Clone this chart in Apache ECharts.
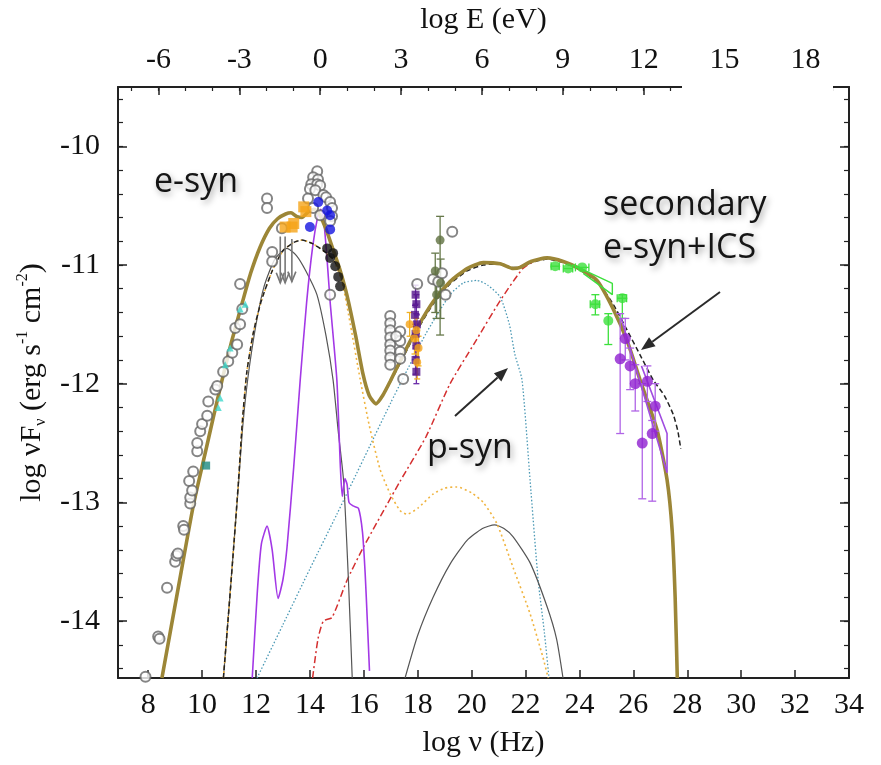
<!DOCTYPE html>
<html>
<head>
<meta charset="utf-8">
<script src="https://cdn.jsdelivr.net/npm/echarts@6/dist/echarts.min.js"></script>
<style>
  html, body { margin: 0; padding: 0; background: #fff; }
  #chart { width: 881px; height: 765px; }
</style>
</head>
<body>
<div id="chart"></div>
<script>
// ---- axis ticks ----
const nuTicks = [8, 10, 12, 14, 16, 18, 20, 22, 24, 26, 28, 30, 32, 34];
const eTicks = [-6, -3, 0, 3, 6, 9, 12, 15, 18];
const fluxTicks = [-14, -13, -12, -11, -10];
const LOG_H = 14.383; // log nu (Hz) at E = 1 eV
const NU_MIN = 6.88, NU_MAX = 34;
const F_MIN = -14.48, F_MAX = -9.5;

// ---- model curves [log nu, log nuFnu] ----
const totalModel = [[8.51,-14.48],[9.1,-13.74],[9.68,-13.02],[10.1,-12.6],[10.41,-12.29],[10.74,-11.97],[11.1,-11.64],[11.5,-11.31],[11.8,-11.07],[12.15,-10.85],[12.5,-10.69],[12.8,-10.61],[13.1,-10.57],[13.3,-10.56],[13.5,-10.59],[13.7,-10.6],[13.95,-10.55],[14.15,-10.53],[14.35,-10.57],[14.6,-10.7],[14.86,-10.87],[15.1,-11.03],[15.38,-11.26],[15.7,-11.6],[15.97,-11.92],[16.2,-12.1],[16.45,-12.17],[16.7,-12.1],[16.98,-11.98],[17.5,-11.74],[17.98,-11.53],[18.57,-11.31],[19.2,-11.14],[19.83,-11.03],[20.43,-10.98],[21.06,-10.99],[21.54,-11.03],[21.8,-11.02],[22.2,-10.97],[22.8,-10.94],[23.4,-10.97],[24.0,-11.03],[24.65,-11.13],[25.25,-11.37],[25.77,-11.64],[26.25,-11.97],[26.88,-12.39],[27.25,-12.81],[27.44,-13.24],[27.55,-13.8],[27.63,-14.48]];
const eSynDashed = [[10.79,-14.48],[10.98,-13.94],[11.17,-13.38],[11.35,-12.82],[11.5,-12.3],[11.66,-11.9],[11.91,-11.56],[12.2,-11.3],[12.6,-11.05],[13.0,-10.88],[13.4,-10.81],[13.7,-10.79],[14.1,-10.82],[14.5,-10.88],[14.9,-10.96],[15.2,-11.12],[15.45,-11.33],[15.7,-11.6],[15.97,-11.92],[16.2,-12.1],[16.45,-12.17],[16.7,-12.1],[16.98,-11.99],[17.5,-11.76],[17.98,-11.55],[18.57,-11.33],[19.2,-11.16],[19.83,-11.05],[20.43,-11.0],[21.06,-10.99],[21.5,-11.02],[21.8,-11.02],[22.2,-10.98],[22.8,-10.95],[23.4,-10.98],[24.0,-11.04],[24.65,-11.14],[25.25,-11.33],[25.77,-11.55],[26.3,-11.78],[26.74,-11.97],[27.15,-12.1],[27.48,-12.26],[27.65,-12.4],[27.76,-12.55]];
const eSynDotted = [[10.79,-14.48],[10.98,-13.94],[11.17,-13.38],[11.35,-12.82],[11.5,-12.3],[11.66,-11.9],[11.91,-11.56],[12.2,-11.3],[12.6,-11.05],[13.0,-10.88],[13.4,-10.81],[13.7,-10.79],[14.1,-10.82],[14.5,-10.88],[14.9,-10.97],[15.2,-11.15],[15.5,-11.5],[15.87,-11.97],[16.2,-12.35],[16.6,-12.72],[16.98,-12.93],[17.35,-13.07],[17.6,-13.1],[18.0,-13.05],[18.57,-12.93],[19.0,-12.88],[19.46,-12.87],[20.0,-12.92],[20.43,-13.0],[20.94,-13.18],[21.54,-13.55],[22.17,-13.94],[22.65,-14.31],[22.84,-14.48]];
const primarySyn = [[10.79,-14.48],[10.98,-13.94],[11.17,-13.38],[11.35,-12.85],[11.5,-12.38],[11.7,-11.95],[12.0,-11.5],[12.3,-11.18],[12.7,-10.95],[13.15,-10.86],[13.5,-10.92],[13.85,-11.05],[14.26,-11.25],[14.6,-11.6],[14.86,-11.97],[15.05,-12.4],[15.25,-12.82],[15.43,-13.66],[15.57,-14.48]];
const secondaryGray = [[17.53,-14.48],[18.0,-14.12],[18.57,-13.8],[19.2,-13.52],[19.83,-13.32],[20.4,-13.22],[20.85,-13.19],[21.2,-13.22],[21.54,-13.29],[22.17,-13.51],[22.8,-13.88],[23.15,-14.15],[23.39,-14.48]];
const purpleModel = [[11.86,-14.48],[12.05,-13.75],[12.2,-13.35],[12.41,-13.2],[12.6,-13.4],[12.82,-13.81],[13.0,-13.65],[13.15,-13.38],[13.4,-12.7],[13.64,-11.97],[13.88,-11.31],[14.1,-10.85],[14.3,-10.58],[14.4,-10.53],[14.5,-10.6],[14.62,-10.9],[14.75,-11.31],[15.0,-11.97],[15.13,-12.7],[15.2,-12.95],[15.3,-12.8],[15.38,-12.85],[15.45,-13.0],[15.6,-13.03],[15.8,-13.05],[15.95,-13.25],[16.05,-13.6],[16.13,-14.0],[16.21,-14.42]];
const pSyn = [[12.04,-14.48],[13.0,-14.03],[14.0,-13.56],[15.0,-13.1],[16.0,-12.63],[17.0,-12.16],[17.42,-11.97],[18.3,-11.58],[19.2,-11.25],[19.7,-11.15],[20.2,-11.13],[20.6,-11.17],[21.06,-11.27],[21.4,-11.5],[21.6,-11.75],[21.87,-11.97],[22.17,-12.82],[22.47,-13.66],[22.7,-14.1],[22.87,-14.48]];
const secondaryRed = [[14.1,-14.48],[14.3,-14.15],[14.5,-14.0],[14.82,-13.97],[15.37,-13.66],[15.98,-13.38],[17.35,-12.82],[18.3,-12.45],[19.2,-12.0],[20.1,-11.66],[21.06,-11.3],[21.9,-11.03],[22.4,-10.96],[22.8,-10.94]];

// ---- data points ----
const archival = [[7.9,-14.47],[8.37,-14.13],[8.42,-14.15],[8.7,-13.72],[9.0,-13.5],[9.05,-13.45],[9.1,-13.43],[9.3,-13.2],[9.33,-13.23],[9.52,-12.82],[9.56,-13.01],[9.56,-12.96],[9.63,-12.9],[9.67,-12.74],[9.82,-12.57],[9.82,-12.5],[9.93,-12.4],[10.0,-12.34],[10.19,-12.27],[10.23,-12.15],[10.49,-12.05],[10.56,-12.02],[10.78,-11.9],[10.97,-11.81],[11.12,-11.74],[11.3,-11.67],[11.23,-11.53],[11.41,-11.5],[11.49,-11.37],[11.41,-11.16],[12.41,-10.44],[12.41,-10.52],[12.6,-10.89],[12.6,-10.97],[12.96,-10.69],[14.27,-10.21],[14.12,-10.26],[14.3,-10.28],[14.05,-10.32],[14.27,-10.32],[14.38,-10.33],[14.0,-10.36],[14.2,-10.37],[14.5,-10.41],[14.6,-10.43],[14.75,-10.47],[14.82,-10.52],[14.82,-10.59],[14.75,-10.63],[13.93,-10.44],[14.12,-10.52],[14.38,-10.58],[14.75,-11.25],[16.98,-11.43],[16.98,-11.49],[16.98,-11.55],[16.98,-11.61],[16.98,-11.67],[16.98,-11.72],[16.98,-11.78],[16.98,-11.84],[17.35,-11.56],[17.35,-11.64],[17.35,-11.73],[17.35,-11.79],[17.2,-11.6],[17.46,-11.96],[17.98,-11.16],[19.28,-10.72],[18.57,-11.12],[18.76,-11.14],[18.9,-11.07],[19.03,-11.25]];
const opticalOrange = [[13.08,-10.68],[13.34,-10.68],[13.4,-10.65],[13.77,-10.51],[13.85,-10.55]];
const uvBlue = [[14.31,-10.47],[14.64,-10.54],[14.75,-10.58],[14.0,-10.68],[14.75,-10.7]];
const irBlack = [[14.64,-10.86],[14.75,-10.94],[14.86,-10.9],[14.94,-11.01],[15.05,-11.1],[15.12,-11.18]];
const upperLimits = [[12.9,-10.76,-11.15],[13.08,-10.76,-11.15],[13.33,-10.78,-11.14]];
const radioCyan = [[11.41,-11.37],[11.6,-11.33],[11.04,-11.7],[10.86,-11.84],[10.67,-12.12],[10.6,-12.2]];
const radioTeal = [[10.15,-12.69]];
// [log nu, value, low, high]
const xrayPurple = [[17.92,-11.25,-11.33,-11.17],[17.95,-11.33,-11.41,-11.25],[17.9,-11.42,-11.5,-11.34],[17.97,-11.5,-11.58,-11.42],[17.92,-11.58,-11.68,-11.5],[17.95,-11.68,-11.78,-11.6],[17.92,-11.8,-11.92,-11.7],[17.95,-11.9,-12.0,-11.8]];
const xrayOrange = [[17.7,-11.5,-11.6,-11.4],[17.95,-11.55,-11.68,-11.45],[17.88,-11.62,-11.75,-11.52],[18.03,-11.7,-11.85,-11.6],[17.98,-11.82,-11.96,-11.72]];
const fermiOlive = [[18.83,-10.79,-11.59,-10.59],[18.65,-11.05,-11.4,-10.9],[18.85,-11.15,-11.45,-10.95],[18.7,-11.25,-11.45,-11.1]];
// [log nu, value, low, high, xlow, xhigh]
const gammaGreen = [[23.1,-11.01,-11.01,-11.01,22.95,23.25],[23.58,-11.03,-11.03,-11.03,23.4,23.75],[24.1,-11.02,-11.02,-11.02,23.85,24.35],[24.59,-11.33,-11.42,-11.25,24.4,24.75],[25.07,-11.47,-11.67,-11.41,25.07,25.07],[25.59,-11.28,-11.45,-11.25,25.4,25.75]];
const greenBowtie = [[23.77,-11.0],[25.22,-11.155],[25.22,-11.25],[24.14,-11.07]];
const vhePurple = [[25.51,-11.79,-12.42,-11.41],[25.7,-11.62,-11.8,-11.45],[25.88,-11.85,-12.05,-11.7],[26.07,-12.0,-12.23,-11.84],[26.52,-11.98,-12.15,-11.85],[26.81,-12.19,-12.4,-12.0],[26.7,-12.42,-12.99,-12.31],[26.33,-12.5,-12.97,-12.0]];
const purpleBowtie = [[25.55,-11.45],[27.25,-12.75],[27.25,-12.42],[26.3,-11.85]];

const serif = '"Liberation Serif", "Times New Roman", serif';
const sans = '"Open Sans", Lato, sans-serif';
const axisColor = '#222';

// minor tick positions
const fluxMinor = [];
for (let v = -14.4; v < -9.55; v += 0.2) fluxMinor.push(+v.toFixed(1));
const eMinor = [];
for (let v = -7; v <= 19; v++) eMinor.push(v);

const chart = echarts.init(document.getElementById('chart'));

function curve(name, data, color, width, type, z) {
  return {
    name, type: 'line', data, smooth: 0.2,
    showSymbol: false, silent: true, z: z || 2,
    lineStyle: { color, width, type: type || 'solid' }
  };
}

function errorBars(name, data, color, cap, z) {
  return {
    name, type: 'custom', data, z: z || 4, clip: true, silent: true,
    encode: { x: 0, y: 1 },
    renderItem(params, api) {
      const x = api.value(0);
      const lo = api.coord([x, api.value(2)]);
      const hi = api.coord([x, api.value(3)]);
      const st = { stroke: color, lineWidth: 1.3 };
      const kids = [];
      if (Math.abs(lo[1] - hi[1]) > 0.5) {
        kids.push({ type: 'line', shape: { x1: lo[0], y1: lo[1], x2: hi[0], y2: hi[1] }, style: st });
        kids.push({ type: 'line', shape: { x1: lo[0] - cap, y1: lo[1], x2: lo[0] + cap, y2: lo[1] }, style: st });
        kids.push({ type: 'line', shape: { x1: hi[0] - cap, y1: hi[1], x2: hi[0] + cap, y2: hi[1] }, style: st });
      }
      const xl = api.value(4), xh = api.value(5);
      if (!isNaN(xl) && !isNaN(xh) && xh > xl) {
        const a = api.coord([xl, api.value(1)]);
        const b = api.coord([xh, api.value(1)]);
        kids.push({ type: 'line', shape: { x1: a[0], y1: a[1], x2: b[0], y2: b[1] }, style: st });
        kids.push({ type: 'line', shape: { x1: a[0], y1: a[1] - cap, x2: a[0], y2: a[1] + cap }, style: st });
        kids.push({ type: 'line', shape: { x1: b[0], y1: b[1] - cap, x2: b[0], y2: b[1] + cap }, style: st });
      }
      return { type: 'group', children: kids };
    }
  };
}

function points(name, data, symbol, size, color, z) {
  return {
    name, type: 'scatter', data, symbol, symbolSize: size, z: z || 5, silent: true,
    itemStyle: symbol.indexOf('empty') === 0 ? { color, borderWidth: 1.3 } : { color }
  };
}

// arrow heads for graphics
function arrow(x1, y1, x2, y2) {
  const dx = x2 - x1, dy = y2 - y1;
  const len = Math.sqrt(dx * dx + dy * dy);
  const ux = dx / len, uy = dy / len;
  const hl = 14, hw = 5.5;
  const bx = x2 - ux * hl, by = y2 - uy * hl;
  return [
    { type: 'line', shape: { x1, y1, x2: bx, y2: by }, style: { stroke: '#2a2a2a', lineWidth: 2 }, z: 100 },
    { type: 'polygon', shape: { points: [[x2, y2], [bx - uy * hw, by + ux * hw], [bx + uy * hw, by - ux * hw]] }, style: { fill: '#2a2a2a' }, z: 100 }
  ];
}

function label(text, x, y) {
  return {
    type: 'text', x, y, z: 110,
    style: {
      text, fill: '#151515', font: '34px ' + sans, verticalAlign: 'middle',
      textShadowColor: 'rgba(0,0,0,0.35)', textShadowBlur: 6,
      textShadowOffsetX: 2, textShadowOffsetY: 3
    }
  };
}

const tickLabel = { fontFamily: serif, fontSize: 30, color: '#111' };
const frameLine = { onZero: false, lineStyle: { color: axisColor, width: 2 } };

const option = {
  backgroundColor: '#fff',
  animation: false,
  grid: { left: 118, right: 32, top: 85, bottom: 87 },
  xAxis: [
    {
      type: 'value', position: 'bottom', min: NU_MIN, max: NU_MAX,
      name: 'log ν (Hz)', nameLocation: 'middle', nameGap: 50,
      nameTextStyle: { fontFamily: serif, fontSize: 30, color: '#111' },
      axisLine: frameLine,
      axisTick: { inside: true, length: 8, customValues: nuTicks, lineStyle: { color: axisColor, width: 1.5 } },
      axisLabel: Object.assign({ customValues: nuTicks, margin: 12 }, tickLabel),
      splitLine: { show: false }
    },
    {
      type: 'value', position: 'top', min: NU_MIN - LOG_H, max: NU_MAX - LOG_H,
      name: 'log E (eV)', nameLocation: 'middle', nameGap: 52,
      nameTextStyle: { fontFamily: serif, fontSize: 30, color: '#111' },
      axisLine: frameLine,
      axisTick: { inside: true, length: 8, customValues: eTicks, lineStyle: { color: axisColor, width: 1.5 } },
      axisLabel: Object.assign({ customValues: eTicks, margin: 12 }, tickLabel),
      splitLine: { show: false }
    },
    {
      type: 'value', position: 'top', min: NU_MIN - LOG_H, max: NU_MAX - LOG_H,
      axisLine: { show: false, onZero: false },
      axisTick: { inside: true, length: 4, customValues: eMinor, lineStyle: { color: axisColor, width: 1.2 } },
      axisLabel: { show: false }, splitLine: { show: false }
    }
  ],
  yAxis: [
    {
      type: 'value', position: 'left', min: F_MIN, max: F_MAX,
      name: 'log νF{sub|ν} (erg s{sup|-1} cm{sup|-2})',
      nameLocation: 'middle', nameGap: 68, nameRotate: 90,
      nameTextStyle: {
        fontFamily: serif, fontSize: 30, color: '#111', lineHeight: 34,
        rich: {
          sub: { fontFamily: serif, fontSize: 16, color: '#111', verticalAlign: 'bottom', lineHeight: 34 },
          sup: { fontFamily: serif, fontSize: 16, color: '#111', verticalAlign: 'top', lineHeight: 34 }
        }
      },
      axisLine: frameLine,
      axisTick: { inside: true, length: 9, customValues: fluxTicks, lineStyle: { color: axisColor, width: 1.5 } },
      axisLabel: Object.assign({ customValues: fluxTicks, margin: 18 }, tickLabel),
      splitLine: { show: false }
    },
    {
      type: 'value', position: 'left', min: F_MIN, max: F_MAX,
      axisLine: { show: false, onZero: false },
      axisTick: { inside: true, length: 5, customValues: fluxMinor, lineStyle: { color: axisColor, width: 1.2 } },
      axisLabel: { show: false }, splitLine: { show: false }
    },
    {
      type: 'value', position: 'right', min: F_MIN, max: F_MAX,
      axisLine: frameLine,
      axisTick: { inside: true, length: 9, customValues: fluxTicks, lineStyle: { color: axisColor, width: 1.5 } },
      axisLabel: { show: false }, splitLine: { show: false }
    },
    {
      type: 'value', position: 'right', min: F_MIN, max: F_MAX,
      axisLine: { show: false, onZero: false },
      axisTick: { inside: true, length: 5, customValues: fluxMinor, lineStyle: { color: axisColor, width: 1.2 } },
      axisLabel: { show: false }, splitLine: { show: false }
    }
  ],
  series: [
    curve('p-syn', pSyn, '#4a98b4', 1.3, [1.5, 2]),
    curve('secondary', secondaryRed, '#d42f2f', 1.5, [7, 3, 2, 3]),
    curve('secondary ICS', secondaryGray, '#555', 1.2),
    curve('primary syn', primarySyn, '#555', 1.2),
    curve('purple', purpleModel, '#a338e6', 1.6),
    curve('e-syn dotted', eSynDotted, '#f0b440', 1.6, [2, 3]),
    curve('e-syn dashed', eSynDashed, '#222', 1.5, [5, 3]),
    curve('total', totalModel, '#9c8637', 3.6, 'solid', 3),
    {
      name: 'green bowtie', type: 'line', data: greenBowtie, showSymbol: false, silent: true, z: 4,
      lineStyle: { color: '#3ce03c', width: 1.4 }
    },
    {
      name: 'purple bowtie', type: 'line', data: purpleBowtie, showSymbol: false, silent: true, z: 4,
      lineStyle: { color: '#a04ce0', width: 1.6 }
    },
    {
      name: 'upper limits', type: 'custom', data: upperLimits, z: 4, silent: true,
      encode: { x: 0, y: 1 },
      renderItem(params, api) {
        const t = api.coord([api.value(0), api.value(1)]);
        const b = api.coord([api.value(0), api.value(2)]);
        const st = { stroke: '#777', lineWidth: 1.6, fill: null };
        return {
          type: 'group', children: [
            { type: 'line', shape: { x1: t[0], y1: t[1], x2: b[0], y2: b[1] }, style: st },
            { type: 'polyline', shape: { points: [[b[0] - 4, b[1] - 10], [b[0], b[1]], [b[0] + 4, b[1] - 10]] }, style: st }
          ]
        };
      }
    },
    errorBars('x-ray purple err', xrayPurple, '#6a2aa8', 3),
    errorBars('x-ray orange err', xrayOrange, '#f0b020', 3),
    errorBars('fermi olive err', fermiOlive, '#66784a', 4),
    errorBars('green err', gammaGreen, '#3ce03c', 4),
    errorBars('vhe err', vhePurple, '#b064e6', 4),
    points('archival', archival, 'emptyCircle', 10, '#666'),
    points('radio cyan', radioCyan, 'triangle', 7, '#3fd8cc'),
    points('radio teal', radioTeal, 'rect', 8, '#1b8a80'),
    points('optical', opticalOrange, 'rect', 11, '#f5a418'),
    points('uv', uvBlue, 'circle', 10, '#1414e0'),
    points('ir', irBlack, 'circle', 10, '#111'),
    points('x-ray purple', xrayPurple, 'rect', 8, '#55178c'),
    points('x-ray orange', xrayOrange, 'circle', 8, '#f5a418'),
    points('fermi olive', fermiOlive, 'circle', 9, '#5f7040'),
    points('green', gammaGreen, 'circle', 10, '#3ce03c'),
    points('vhe', vhePurple, 'circle', 11, '#8f1fd0')
  ],
  graphic: [
    // patch on the frame, as in the original figure
    { type: 'rect', shape: { x: 682, y: 78, width: 151, height: 214 }, style: { fill: '#fff' }, z: 90 },
    ...arrow(720, 292, 641, 350),
    ...arrow(455, 416, 508, 368),
    label('e-syn', 154, 182),
    label('secondary', 603, 205),
    label('e-syn+ICS', 603, 248),
    label('p-syn', 427, 448)
  ]
};

chart.setOption(option);
</script>
</body>
</html>
